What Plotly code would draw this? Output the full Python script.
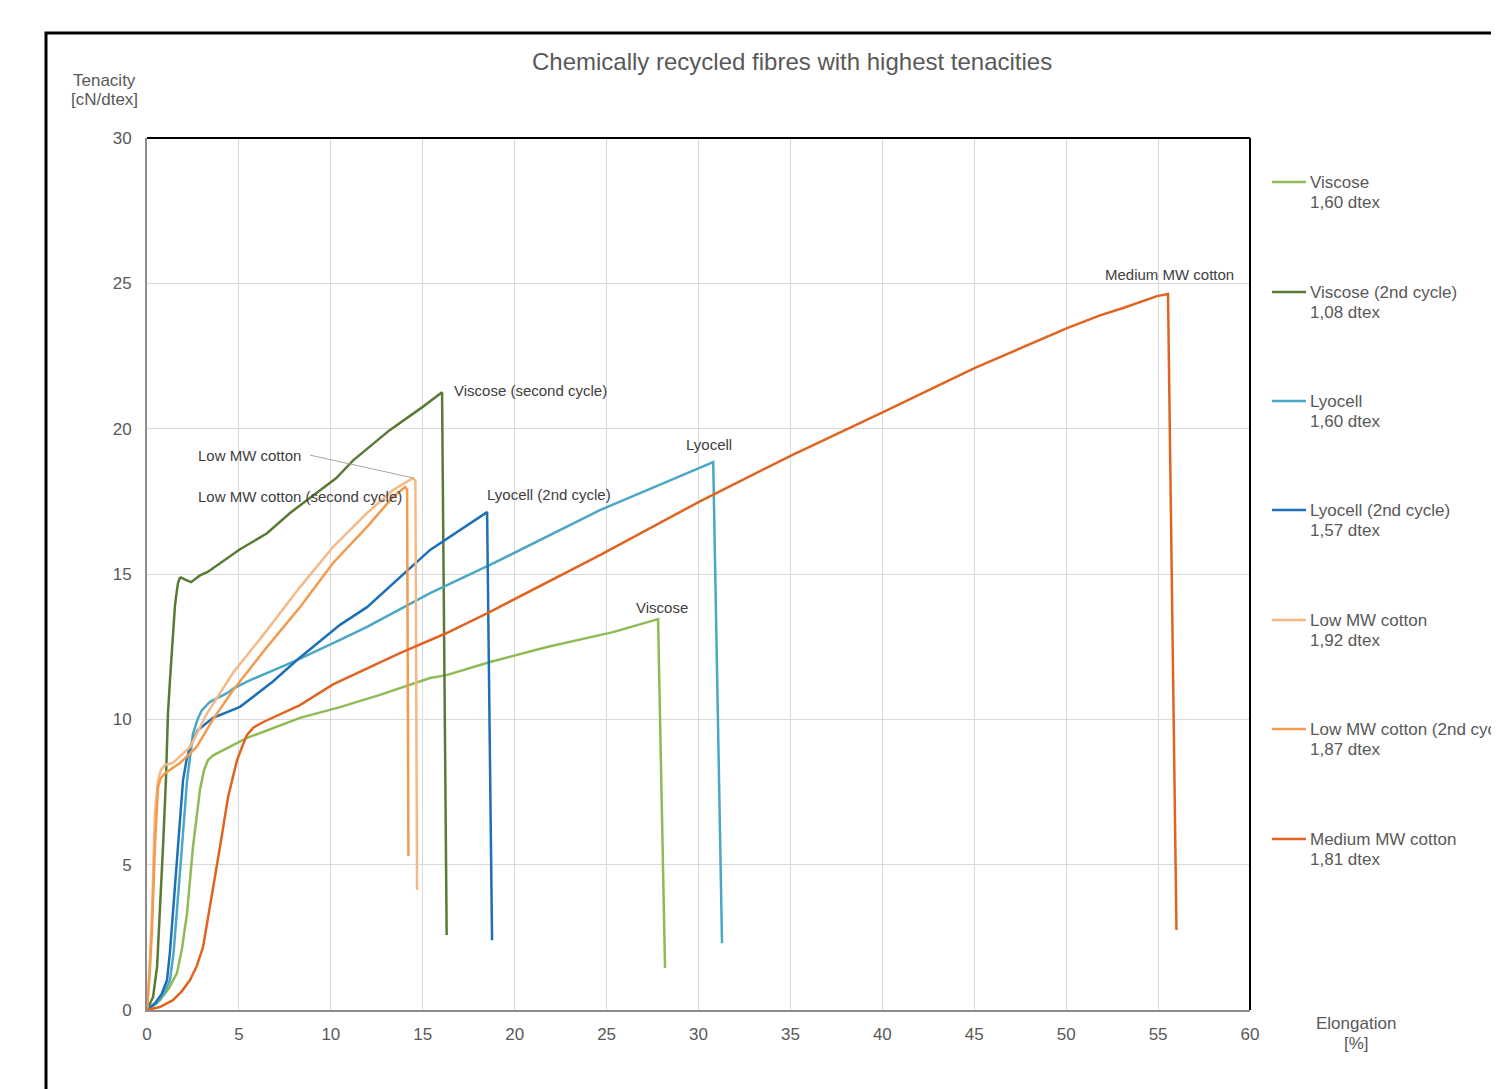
import plotly.graph_objects as go

# ---------------- data ----------------
series_names = ["Viscose", "Viscose (2nd cycle)", "Lyocell", "Lyocell (2nd cycle)",
                "Low MW cotton", "Low MW cotton (2nd cycle)", "Medium MW cotton"]
series_dtex = ["1,60 dtex", "1,08 dtex", "1,60 dtex", "1,57 dtex",
               "1,92 dtex", "1,87 dtex", "1,81 dtex"]
series_colors = ["#8fba55", "#5a7a34", "#4aa8c4", "#1d70b7",
                 "#f5b985", "#f29b4f", "#e06420"]

viscose_x = [0, 0.71, 1.2, 1.63, 1.9, 2.18, 2.5, 2.88, 3.1, 3.32, 3.6, 3.97, 5.44, 8.32,
             10.5, 12.67, 15.4, 16.3, 18.66, 21.76, 25.35, 27.8, 28.18]
viscose_y = [0, 0.34, 0.75, 1.27, 2.1, 3.34, 5.6, 7.57, 8.25, 8.6, 8.76, 8.88, 9.36, 10.05,
             10.42, 10.84, 11.42, 11.52, 11.97, 12.49, 13.0, 13.45, 1.45]

viscose2_x = [0, 0.33, 0.55, 0.71, 0.87, 1.03, 1.14, 1.25, 1.4, 1.52, 1.62, 1.69, 1.78,
              1.85, 2.1, 2.4, 2.88, 3.3, 5.06, 6.53, 7.78, 10.3, 11.2, 13.2, 15.0, 16.05, 16.3]
viscose2_y = [0, 0.45, 1.5, 3.34, 5.6, 7.9, 10.2, 11.35, 12.8, 13.9, 14.4, 14.7, 14.85,
              14.88, 14.8, 14.72, 14.95, 15.07, 15.85, 16.4, 17.1, 18.3, 18.9, 19.95, 20.75,
              21.25, 2.58]

lyocell_x = [0, 0.54, 0.95, 1.25, 1.45, 1.63, 1.9, 2.18, 2.5, 2.75, 2.97, 3.26, 3.43, 4.35,
             4.68, 5.44, 8.16, 10.5, 11.97, 15.4, 18.66, 24.64, 30.8, 31.28]
lyocell_y = [0, 0.24, 0.6, 1.03, 2.0, 3.34, 5.6, 7.9, 9.5, 10.0, 10.3, 10.5, 10.6, 10.9,
             11.05, 11.3, 12.04, 12.73, 13.18, 14.34, 15.31, 17.2, 18.85, 2.3]

lyocell2_x = [0, 0.45, 0.8, 1.09, 1.25, 1.41, 1.69, 1.96, 2.15, 2.34, 2.77, 3.59, 5.06,
              6.85, 8.16, 10.5, 11.97, 15.4, 18.5, 18.77]
lyocell2_y = [0, 0.24, 0.55, 1.03, 2.0, 3.34, 5.6, 7.9, 8.6, 9.05, 9.63, 10.05, 10.43,
              11.3, 12.04, 13.25, 13.86, 15.83, 17.13, 2.4]

lowmw_x = [0, 0.05, 0.15, 0.27, 0.43, 0.6, 0.75, 0.98, 1.41, 2.34, 3.26, 4.68, 6.53, 8.32,
           10.12, 11.97, 13.38, 14.47, 14.6, 14.69]
lowmw_y = [0, 0.45, 1.6, 3.34, 6.78, 7.9, 8.25, 8.43, 8.5, 9.05, 10.2, 11.6, 13.07, 14.55,
           15.93, 17.1, 17.89, 18.3, 18.2, 4.13]

lowmw2_x = [0, 0.05, 0.15, 0.27, 0.43, 0.6, 0.75, 0.98, 1.8, 2.7, 3.59, 4.68, 6.53, 8.32,
            10.12, 11.97, 13.38, 14.04, 14.15, 14.22]
lowmw2_y = [0, 0.45, 1.3, 2.75, 5.6, 7.67, 7.98, 8.15, 8.5, 9.05, 10.0, 11.0, 12.49, 13.86,
            15.38, 16.62, 17.65, 17.99, 17.9, 5.3]

medmw_x = [0, 0.7, 1.41, 1.9, 2.34, 2.7, 3.05, 3.53, 3.97, 4.41, 4.9, 5.2, 5.44, 5.8, 6.3,
           8.32, 10.12, 13.76, 16.3, 18.66, 24.64, 30.08, 35.09, 40.04, 45.04, 50.05, 51.84,
           53.1, 54.94, 55.54, 56.0]
medmw_y = [0, 0.1, 0.34, 0.65, 1.03, 1.5, 2.17, 3.89, 5.61, 7.33, 8.6, 9.1, 9.46, 9.72, 9.9,
           10.49, 11.2, 12.28, 12.97, 13.7, 15.65, 17.5, 19.09, 20.57, 22.09, 23.46, 23.9,
           24.15, 24.56, 24.63, 2.75]

series_x = [viscose_x, viscose2_x, lyocell_x, lyocell2_x, lowmw_x, lowmw2_x, medmw_x]
series_y = [viscose_y, viscose2_y, lyocell_y, lyocell2_y, lowmw_y, lowmw2_y, medmw_y]

x_ticks = list(range(0, 61, 5))
y_ticks = list(range(0, 31, 5))

# in-plot labels: (text, x, y)
curve_labels = [
    ("Viscose (second cycle)", 16.59, 21.33),
    ("Low MW cotton", 2.67, 19.06),
    ("Low MW cotton (second cycle)", 2.67, 17.68),
    ("Lyocell (2nd cycle)", 18.39, 17.75),
    ("Lyocell", 29.21, 19.47),
    ("Viscose", 26.49, 13.86),
    ("Medium MW cotton", 52.0, 25.32),
]

# ---------------- layout helpers ----------------
OFF = 8                      # default body margin of the html page
W, H = 1499 - OFF, 1089 - OFF
L, R, T, B = 147, 1250, 138, 1010   # plot area in page pixels
FONT = "Liberation Sans, Arial, sans-serif"


def pxx(p):
    return (p - L) / (R - L)


def pxy(p):
    return (B - p) / (B - T)


fig = go.Figure()
for xs, ys, name, col in zip(series_x, series_y, series_names, series_colors):
    fig.add_trace(go.Scatter(x=xs, y=ys, mode="lines", name=name,
                             line=dict(color=col, width=2.5),
                             showlegend=False))

shapes = []
annotations = []

# outer frame
shapes.append(dict(type="rect", xref="paper", yref="paper",
                   x0=pxx(46), x1=pxx(1560), y0=pxy(1120), y1=pxy(33),
                   line=dict(color="black", width=3), layer="below"))
# top and right border of plot area
shapes.append(dict(type="line", xref="paper", yref="paper", x0=0, x1=1, y0=1, y1=1,
                   line=dict(color="black", width=2)))
shapes.append(dict(type="line", xref="paper", yref="paper", x0=1, x1=1, y0=0, y1=1,
                   line=dict(color="black", width=2)))

# leader line for "Low MW cotton"
shapes.append(dict(type="line", xref="x", yref="y", x0=8.87, y0=19.09, x1=14.52, y1=18.3,
                   line=dict(color="#a6a6a6", width=1)))

for text, lx, ly in curve_labels:
    annotations.append(dict(text=text, x=lx, y=ly, xref="x", yref="y", showarrow=False,
                            xanchor="left", yanchor="middle",
                            font=dict(family=FONT, size=15, color="#404040")))

# custom legend
legend_rows = [182, 292, 401, 510, 620, 729, 839]
for row, name, dtex, col in zip(legend_rows, series_names, series_dtex, series_colors):
    shapes.append(dict(type="line", xref="paper", yref="paper",
                       x0=pxx(1272), x1=pxx(1306), y0=pxy(row), y1=pxy(row),
                       line=dict(color=col, width=2.5)))
    annotations.append(dict(text=name, x=pxx(1308), y=pxy(row), xref="paper", yref="paper",
                            showarrow=False, xanchor="left", yanchor="middle",
                            font=dict(family=FONT, size=17, color="#595959")))
    annotations.append(dict(text=dtex, x=pxx(1308), y=pxy(row + 20), xref="paper", yref="paper",
                            showarrow=False, xanchor="left", yanchor="middle",
                            font=dict(family=FONT, size=17, color="#595959")))

# title and axis titles
annotations.append(dict(text="Chemically recycled fibres with highest tenacities",
                        x=pxx(792), y=pxy(62), xref="paper", yref="paper", showarrow=False,
                        xanchor="center", yanchor="middle",
                        font=dict(family=FONT, size=24, color="#595959")))
for txt, yy in [("Tenacity", 80), ("[cN/dtex]", 100)]:
    annotations.append(dict(text=txt, x=pxx(104), y=pxy(yy), xref="paper", yref="paper",
                            showarrow=False, xanchor="center", yanchor="middle",
                            font=dict(family=FONT, size=17, color="#595959")))
for txt, yy in [("Elongation", 1023), ("[%]", 1043)]:
    annotations.append(dict(text=txt, x=pxx(1356), y=pxy(yy), xref="paper", yref="paper",
                            showarrow=False, xanchor="center", yanchor="middle",
                            font=dict(family=FONT, size=17, color="#595959")))

axis_common = dict(showgrid=True, gridcolor="#d9d9d9", gridwidth=1, zeroline=False,
                   showline=True, linecolor="#8c8c8c", linewidth=2, ticks="",
                   tickfont=dict(family=FONT, size=17, color="#595959"))

fig.update_layout(
    width=W, height=H,
    margin=dict(l=L - OFF, r=(W + OFF) - R, t=T - OFF, b=(H + OFF) - B),
    paper_bgcolor="white", plot_bgcolor="white",
    xaxis=dict(range=[0, 60], tickvals=x_ticks, ticklabelstandoff=8, **axis_common),
    yaxis=dict(range=[0, 30], tickvals=y_ticks, ticklabelstandoff=10, **axis_common),
    shapes=shapes, annotations=annotations,
    showlegend=False,
)

fig.write_html("out.html")
